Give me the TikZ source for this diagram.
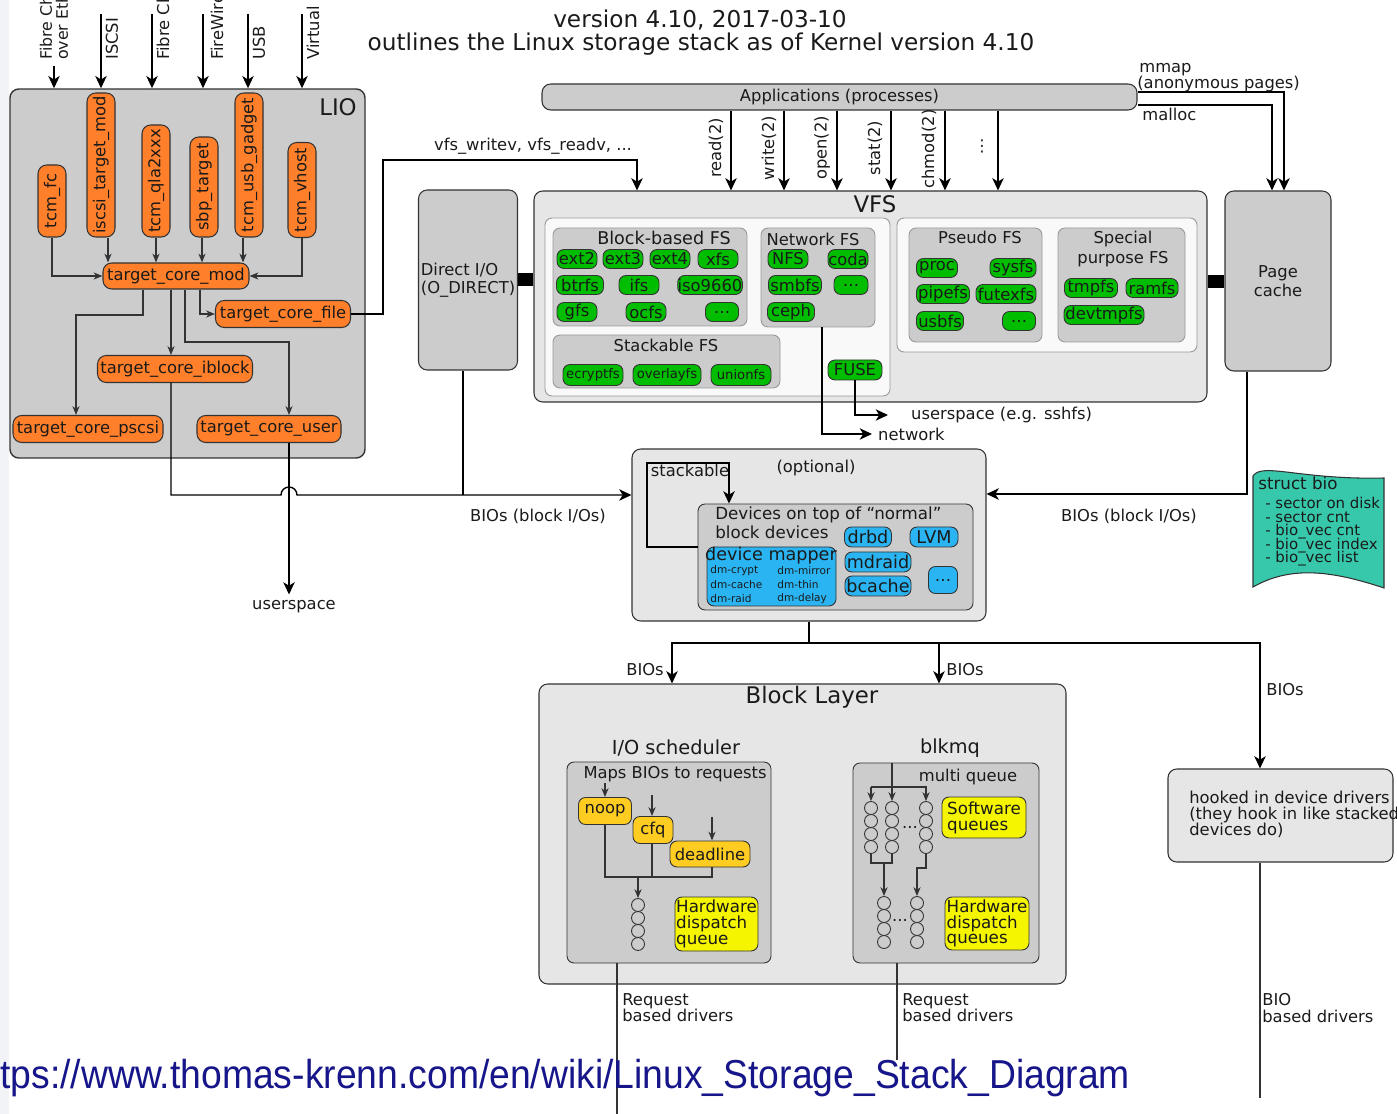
\documentclass[tikz,border=0pt]{standalone}
\usepackage{graphicx}
\usepackage{fontspec}
\setmainfont{DejaVu Sans}
\newfontfamily\urlfont{Liberation Sans}
\usetikzlibrary{arrows.meta,positioning,calc}

\definecolor{linec}{HTML}{333333}
\definecolor{txt}{HTML}{1A1A1A}
\definecolor{boxgray}{HTML}{CCCCCC}
\definecolor{boxlight}{HTML}{E6E6E6}
\definecolor{boxwhite}{HTML}{F9F9F9}
\definecolor{lioorange}{HTML}{FF7F2A}
\definecolor{fsgreen}{HTML}{00BD00}
\definecolor{devblue}{HTML}{2AB4F2}
\definecolor{schedgold}{HTML}{FFCC22}
\definecolor{qyellow}{HTML}{F5F500}
\definecolor{biogreen}{HTML}{37C8AB}
\definecolor{urlblue}{HTML}{16168A}
\definecolor{edgegray}{HTML}{F2F3F6}

\newcommand{\fsz}[1]{\fontsize{#1}{#1}\selectfont}
\lineskiplimit=-100pt

\begin{document}
\begin{tikzpicture}[
    x=0.02cm, y=-0.02cm,
    font=\fontsize{9.3}{10.5}\selectfont, text=txt,
    wh/.style 2 args={minimum width=#1*0.02cm, minimum height=#2*0.02cm},
    grp/.style={draw=linec, fill=boxgray, rounded corners=5pt, line width=0.8pt, inner sep=0pt},
    grpl/.style={grp, fill=boxlight},
    inbox/.style={draw=black!40, fill=boxwhite, rounded corners=4pt, line width=0.5pt, inner sep=0pt},
    subbox/.style={draw=black!40, fill=boxgray, rounded corners=4pt, line width=0.5pt, inner sep=0pt},
    mod/.style={draw=linec, fill=lioorange, rounded corners=5pt, line width=0.6pt, inner sep=0pt},
    fs/.style={draw=linec, fill=fsgreen, rounded corners=4pt, line width=0.5pt, inner sep=0pt},
    dev/.style={fs, fill=devblue},
    sched/.style={fs, fill=schedgold},
    hwq/.style={fs, fill=qyellow, align=left, font=\fontsize{9.5}{9}\selectfont},
    qc/.style={circle, draw=linec, fill=boxgray, minimum size=13*0.02cm, inner sep=0pt, line width=0.5pt},
    big/.style={font=\fsz{13}},
    arrow/.style={-{Stealth[length=7pt, width=6.5pt, inset=2pt]}, line width=0.8pt},
    sarrow/.style={-{Stealth[length=5pt, width=4pt, inset=1.5pt]}, line width=0.7pt, draw=linec},
    conn/.style={line width=0.7pt, draw=linec}
]
\useasboundingbox (0,0) rectangle (1397,1114);
\clip (0,0) rectangle (1397,1114);
\fill[edgegray] (0,0) rectangle (9,1114);

% title
\node[font=\fsz{13.2}] (ver) at (700,20) {version 4.10, 2017-03-10};
\node[font=\fsz{13.2}] (outl) at (701,44) {outlines the Linux storage stack as of Kernel version 4.10};

% LIO
\node[grp, wh={355}{369}] (lio) at (187.5,273.5) {};
\node[big] (liotitle) at (338,107) {LIO};

\node[rotate=90, anchor=west, align=left, font=\fsz{9}] (lfc) at (54,66) {Fibre Channel\\over Ethernet};
\node[rotate=90, anchor=west] (liscsi) at (112,66) {ISCSI};
\node[rotate=90, anchor=west] (lqla) at (163,66) {Fibre Channel};
\node[rotate=90, anchor=west] (lsbp) at (217,66) {FireWire};
\node[rotate=90, anchor=west] (lusb) at (259,66) {USB};
\node[rotate=90, anchor=west] (lvirt) at (313,66) {Virtual};
\foreach \n/\x in {a/101, b/152, c/203, d/248, e/302}
  \coordinate (in\n) at (\x,14);
\draw[arrow] (lfc.west) -- (lfc.west |- lio.north);
\foreach \n in {a,b,c,d,e}
  \draw[arrow] (in\n) -- (in\n |- lio.north);

\node[mod, wh={72}{28}, rotate=90] (fc) at (52,201) {tcm\_fc};
\node[mod, wh={144}{28}, rotate=90] (iscsi) at (101,165) {iscsi\_target\_mod};
\node[mod, wh={112}{28}, rotate=90] (qla) at (156,181) {tcm\_qla2xxx};
\node[mod, wh={100}{28}, rotate=90] (sbp) at (204,187) {sbp\_target};
\node[mod, wh={144}{28}, rotate=90] (usbg) at (249,165) {tcm\_usb\_gadget};
\node[mod, wh={95}{28}, rotate=90] (vhost) at (302,190) {tcm\_vhost};

\node[mod, wh={146}{26}] (core) at (176,276) {target\_core\_mod};
\node[mod, wh={135}{27}] (file) at (283,314) {target\_core\_file};
\node[mod, wh={155}{27}] (iblock) at (175,369) {target\_core\_iblock};
\node[mod, wh={150}{27}] (pscsi) at (88,429) {target\_core\_pscsi};
\node[mod, wh={144}{27}] (user) at (269,429) {target\_core\_user};

\draw[sarrow] (fc.west) |- (core.west);
\draw[sarrow] (iscsi.west -| 108,0) -- (core.north -| 108,0);
\draw[sarrow] (qla.west) -- (core.north -| qla.west);
\draw[sarrow] (sbp.west -| 202,0) -- (core.north -| 202,0);
\draw[sarrow] (usbg.west -| 243,0) -- (core.north -| 243,0);
\draw[sarrow] (vhost.west) |- (core.east);
\draw[sarrow] (core.south -| 200,0) |- (file.west);
\draw[sarrow] (core.south -| 171,0) -- (iblock.north -| 171,0);
\draw[sarrow] (core.south -| 143,0) -- (143,315) -| (pscsi.north -| 76,0);
\draw[sarrow] (core.south -| 185,0) -- (185,342) -| (user.north -| 289,0);

\node (uspace) at (294,607) {userspace};
\draw[arrow] (user.south -| 289,0) -- (uspace.north -| 289,0);

% Applications
\node[grp, wh={595}{26}, line width=0.6pt] (apps) at (839.5,97) {Applications (processes)};

% Direct I/O, VFS, page cache
\node[grp, wh={99}{180}, align=left, line width=0.6pt, font=\fontsize{9.3}{10}\selectfont] (dio) at (468,280) {Direct I/O\\(O\_DIRECT)};
\node[grpl, wh={673}{211}, line width=0.6pt] (vfs) at (870.5,296.5) {};
\node[big] (vfstitle) at (875,204) {VFS};
\node[grp, wh={106}{180}, align=center, line width=0.6pt] (pcache) at (1278,281) {Page\\cache};
\draw[line width=0.26cm] (dio.east |- 0,280) -- (vfs.west |- 0,280);
\draw[line width=0.26cm] (vfs.east |- 0,282) -- (pcache.west |- 0,282);

\node (vfsrw) at (533,146) {vfs\_writev, vfs\_readv, ...};
\draw[arrow] (file.east) -- (383,314) -- (383,160) -| (vfs.north -| 637,0);

% system calls
\foreach \x in {731,784,837,891,945,998}
  \draw[arrow] (apps.south -| \x,0) -- (vfs.north -| \x,0);
\node[rotate=90] (lread) at (716,148) {read(2)};
\node[rotate=90] (lwrite) at (769,148) {write(2)};
\node[rotate=90] (lopen) at (822,148) {open(2)};
\node[rotate=90] (lstat) at (875,148) {stat(2)};
\node[rotate=90] (lchmod) at (929,149) {chmod(2)};
\node (ldots) at (982,146) {⋮};

% mmap / malloc
\draw[arrow] (apps.east |- 0,92) -| (pcache.north -| 1284,0);
\draw[arrow] (apps.east |- 0,105) -| (pcache.north -| 1272,0);
\node[anchor=west, inner sep=0pt] (lmmap) at (1139,70) {mmap};
\node[anchor=west, inner sep=0pt] (lanon) at (1137,84) {(anonymous pages)};
\node[anchor=west, inner sep=0pt] (lmalloc) at (1142,114) {malloc};

% filesystems
\node[inbox, wh={345}{178}] (inl) at (717.5,307) {};
\node[subbox, wh={194}{98}] (blockfs) at (650,277) {};
\node[font=\fsz{10}] (lblockfs) at (664,238) {Block-based FS};
\node[subbox, wh={114}{99}] (netfs) at (818,277.5) {};
\node (lnetfs) at (813,239) {Network FS};
\node[subbox, wh={227}{53}] (stackfs) at (666.5,361.5) {};
\node (lstackfs) at (666,345) {Stackable FS};
\node[inbox, wh={300}{134}] (inr) at (1047,285) {};
\node[subbox, wh={133}{114}] (pseudofs) at (975.5,285) {};
\node (lpseudofs) at (980,237) {Pseudo FS};
\node[subbox, wh={127}{114}] (specfs) at (1121.5,285) {};
\node[align=center, font=\fontsize{9.3}{11}\selectfont] (lspecfs) at (1123,249) {Special\\purpose FS};

\foreach \nm/\t/\x/\y/\w in {ext2/ext2/577/259/40, ext3/ext3/623/259/40, ext4/ext4/670/259/40, xfs/xfs/718/259/40,
    btrfs/btrfs/580/285/47, ifs/ifs/639/285/40, iso/iso9660/710/285/64,
    gfs/gfs/577/312/40, ocfs/ocfs/646/312/40, bdots/…/722/312/33,
    nfs/NFS/788/259/40, coda/coda/848/259/40, smbfs/smbfs/795/285/53, ndots/…/851/285/34, ceph/ceph/791/312/47,
    proc/proc/937/268/41, sysfs/sysfs/1013/268/46, pipefs/pipefs/943/294/53, futexfs/futexfs/1006/294/60,
    usbfs/usbfs/940/321/47, pdots/…/1019/321/33,
    tmpfs/tmpfs/1091/288/53, ramfs/ramfs/1152/288/52, devtmpfs/devtmpfs/1104/315/80}
  \node[fs, wh={\w}{19}] (\nm) at (\x,\y) {\t};
\foreach \nm/\x/\w in {ecryptfs/593/60, overlayfs/667/68, unionfs/741/60}
  \node[fs, wh={\w}{21}, font=\fsz{7.5}] (\nm) at (\x,375) {\nm};
\node[fs, wh={54}{20}] (fuse) at (855,370) {FUSE};

\node[anchor=west] (netw) at (872,434) {network};
\node[anchor=west] (ssh) at (905,415) {userspace (e.g. sshfs)};
\draw[arrow] (netfs.south -| 822,0) |- (netw.west);
\draw[arrow] (fuse.south) |- ([xshift=-0.34cm]ssh.west);

% struct bio
\filldraw[draw=linec, fill=biogreen, line width=0.6pt] (1253,587) -- (1253,476)
  .. controls (1262,462) and (1300,480) .. (1384,478) -- (1384,588)
  .. controls (1330,570) and (1290,566) .. cycle;
\node[anchor=west, inner sep=0pt, font=\fsz{9.5}] (sbio) at (1258,483) {struct bio};
\node[anchor=north west, inner sep=0pt, align=left, font=\fontsize{8.5}{7.65}\selectfont] (sbiol) at (1265,497)
  {- sector on disk\\- sector cnt\\- bio\_vec cnt\\- bio\_vec index\\- bio\_vec list};

% optional stacked devices
\node[grpl, wh={354}{172}, line width=0.6pt] (opt) at (809,535) {};
\node (lopt) at (816,468) {(optional)};
\node[subbox, wh={275}{106}, draw=linec] (devs) at (835.5,557) {};
\node[anchor=north west, align=left, inner sep=0pt, font=\fontsize{9.5}{11}\selectfont] (ldevs) at (715,506)
  {Devices on top of ``normal''\\block devices};
\node (lstack) at (690,470) {stackable};
\draw[arrow] (devs.west |- 0,547) -| (647,463) -| (devs.north -| 729,0);

\node[dev, wh={129}{59}] (dm) at (771.5,576.5) {};
\node[font=\fsz{10}] (ldm) at (771,556) {device mapper};
\node[font=\fsz{6}, anchor=west, inner sep=0pt] (dm1) at (710,571) {dm-crypt};
\node[font=\fsz{6}, anchor=west, inner sep=0pt] (dm2) at (777,571) {dm-mirror};
\node[font=\fsz{6}, anchor=west, inner sep=0pt] (dm3) at (710,585) {dm-cache};
\node[font=\fsz{6}, anchor=west, inner sep=0pt] (dm4) at (777,585) {dm-thin};
\node[font=\fsz{6}, anchor=west, inner sep=0pt] (dm5) at (710,599) {dm-raid};
\node[font=\fsz{6}, anchor=west, inner sep=0pt] (dm6) at (777,599) {dm-delay};
\node[dev, wh={47}{20}, font=\fsz{10}] (drbd) at (868,537) {drbd};
\node[dev, wh={48}{20}, font=\fsz{10}] (lvm) at (934,537) {LVM};
\node[dev, wh={66}{20}, font=\fsz{10}] (mdraid) at (878,562) {mdraid};
\node[dev, wh={66}{20}, font=\fsz{10}] (bcache) at (878,586) {bcache};
\node[dev, wh={29}{27}] (ddots) at (943,580) {…};

% BIOs into the stacked devices
\coordinate (bjoin) at (463,495);
\draw[conn, draw=black] (dio.south -| 463,0) -- (bjoin);
\draw[arrow] (iblock.south -| 171,0) -- (171,495) -- (281,495)
  arc[start angle=180, end angle=360, radius=8] -- (opt.west |- 0,495);
\node (lbios1) at (538,516) {BIOs (block I/Os)};
\draw[arrow] (pcache.south -| 1247,0) |- (opt.east |- 0,494);
\node (lbios2) at (1129,516) {BIOs (block I/Os)};

% block layer
\node[grpl, wh={527}{300}, line width=0.6pt] (blk) at (802.5,834) {};
\node[big] (lblk) at (812,697) {Block Layer};
\node[grpl, wh={225}{93}, line width=0.6pt] (hook) at (1280.5,815.5) {};
\node[anchor=north west, align=left, inner sep=0pt, font=\fontsize{9.3}{9}\selectfont] (lhook) at (1189,791)
  {hooked in device drivers\\(they hook in like stacked\\devices do)};

\coordinate (split) at (809,643);
\draw[conn, draw=black] (opt.south) -- (split);
\draw[arrow] (split) -| (blk.north -| 672,0);
\draw[arrow] (split) -| (blk.north -| 939,0);
\draw[arrow] (split) -| (hook.north -| 1260,0);
\node (lb1) at (645,670) {BIOs};
\node (lb2) at (965,670) {BIOs};
\node (lb3) at (1285,690) {BIOs};

% I/O scheduler
\node[font=\fsz{11}] (liosch) at (676,748) {I/O scheduler};
\node[subbox, wh={204}{201}, draw=linec] (iosch) at (669,862.5) {};
\node (lmaps) at (675,774) {Maps BIOs to requests};
\node[sched, wh={53}{27}] (noop) at (605,811) {noop};
\node[sched, wh={40}{27}] (cfq) at (653,830) {cfq};
\node[sched, wh={80}{26}] (deadline) at (710,854) {deadline};
\draw[sarrow] (605,783) -- (noop.north);
\draw[sarrow] (652,795) -- (cfq.north -| 652,0);
\draw[sarrow] (712,817) -- (deadline.north -| 712,0);
\draw[conn] (noop.south) -- (605,877) -- (712,877) -- (deadline.south -| 712,0);
\draw[conn] (cfq.south -| 652,0) -- (652,877);
\foreach \i/\y in {1/905,2/918,3/931,4/944}
  \node[qc] (q\i) at (638,\y) {};
\draw[sarrow] (638,877) -- (q1.north);
\node[hwq, wh={83}{54}] (hwd) at (716.5,924) {Hardware\\dispatch\\queue};

% blkmq
\node[font=\fsz{11}] (lblkmq) at (950,748) {blkmq};
\node[subbox, wh={186}{200}, draw=linec] (mq) at (946,863) {};
\node (lmulti) at (968,777) {multi queue};
\foreach \c/\x in {a/871, b/892, c/926}
  \foreach \i/\y in {1/808,2/821,3/834,4/847}
    \node[qc] (sw\c\i) at (\x,\y) {};
\node (swdots) at (910,827) {...};
\node[hwq, wh={84}{41}] (swq) at (984,817.5) {Software\\queues};
\draw[conn] (mq.north -| 892,0) -- (892,787);
\draw[conn] (871,787) -- (927,787);
\draw[sarrow] (871,787) -- (swa1.north);
\draw[sarrow] (892,787) -- (swb1.north);
\draw[sarrow] (926,787) -- (swc1.north);
\foreach \c/\x in {a/884, b/917}
  \foreach \i/\y in {1/903,2/916,3/929,4/942}
    \node[qc] (hw\c\i) at (\x,\y) {};
\node (hwdots) at (900,920) {...};
\node[hwq, wh={84}{53}] (hwqs) at (987,923.5) {Hardware\\dispatch\\queues};
\draw[conn] (swa4.south) -- (871,863) -- (892,863) -- (swb4.south);
\draw[sarrow] (884,863) -- (hwa1.north);
\draw[sarrow] (swc4.south) -- (926,868) -- (917,868) -- (hwb1.north);

% drivers
\coordinate (rq1) at (617,1120);
\coordinate (rq2) at (897,1060);
\coordinate (biod) at (1260,1098);
\draw[conn] (iosch.south -| 617,0) -- (rq1);
\draw[conn] (mq.south -| 897,0) -- (rq2);
\draw[conn] (hook.south -| 1260,0) -- (biod);
\node[anchor=north west, align=left, inner sep=0pt, font=\fontsize{9.3}{9.5}\selectfont] (ld1) at (622,993) {Request\\based drivers};
\node[anchor=north west, align=left, inner sep=0pt, font=\fontsize{9.3}{9.5}\selectfont] (ld2) at (902,993) {Request\\based drivers};
\node[anchor=north west, align=left, inner sep=0pt, font=\fontsize{9.3}{9.5}\selectfont] (ld3) at (1262,993) {BIO\\based drivers};

% source
\node[anchor=base west, inner sep=0pt, text=urlblue] (url) at (0,1088)
  {\resizebox{22.6cm}{\height}{\urlfont\fontsize{23}{23}\selectfont tps://www.thomas-krenn.com/en/wiki/Linux\_Storage\_Stack\_Diagram}};
\end{tikzpicture}
\end{document}
